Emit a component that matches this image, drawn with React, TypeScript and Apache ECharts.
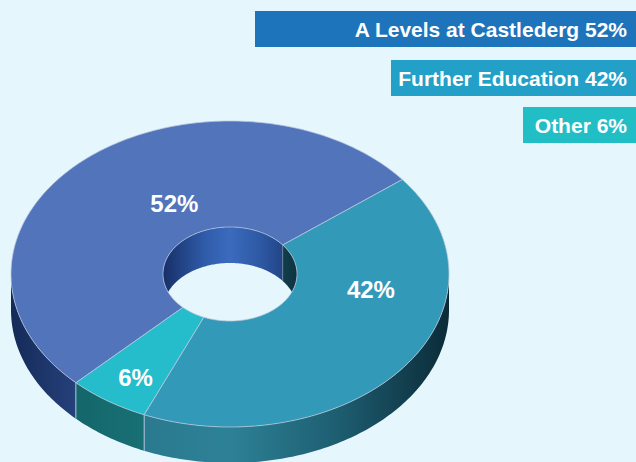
import React, { useEffect, useRef } from 'react';
import * as echarts from 'echarts';

// ---- data ----
const categories = ['A Levels at Castlederg', 'Further Education', 'Other'];
const values = [52, 42, 6];

// ---- styles ----
const topColors = ['#5274bb', '#3399b8', '#25bccb'];
const legendColors = ['#1e74ba', '#23a0c8', '#22bec6'];
const sideStops = [
  [
    { offset: 0, color: '#142a58' },
    { offset: 0.15, color: '#26417b' },
    { offset: 0.5, color: '#35599a' },
    { offset: 1, color: '#1a3060' },
  ],
  [
    { offset: 0, color: '#1e6b80' },
    { offset: 0.3, color: '#2a7a8f' },
    { offset: 0.5, color: '#2d8196' },
    { offset: 0.75, color: '#1d5d70' },
    { offset: 1, color: '#0b2b38' },
  ],
  [
    { offset: 0, color: '#0f5a5e' },
    { offset: 0.2, color: '#156a6e' },
    { offset: 0.4, color: '#1b7579' },
    { offset: 1, color: '#1b7579' },
  ],
];
const innerStops = [
  [
    { offset: 0, color: '#172f66' },
    { offset: 0.3, color: '#2f5aa8' },
    { offset: 0.5, color: '#3b6bbe' },
    { offset: 0.75, color: '#2c56a0' },
    { offset: 1, color: '#1b3874' },
  ],
  [
    { offset: 0, color: '#1a5466' },
    { offset: 0.8, color: '#164756' },
    { offset: 1, color: '#0d3340' },
  ],
  [
    { offset: 0, color: '#18777b' },
    { offset: 1, color: '#18777b' },
  ],
];
const SEAM = 'rgba(185,200,222,0.75)';
const BG = '#e6f6fd';
const FONT = '"Liberation Sans", Arial, Helvetica, sans-serif';

// ---- layout ----
const CX = 230;
const CY = 274;
const RX = 219;
const RY = 153;
const IRX = 67;
const IRY = 47;
const DEPTH = 36;
const START = 134.7;
const LABEL_R = 0.65;
const LABEL_NUDGE = [
  [39, 4],
  [28, -45],
  [-15, 21],
];
const LEGEND_TOPS = [11, 60, 107];
const LEGEND_WIDTHS = [381, 245, 113];
const LEGEND_H = 36;
const LEGEND_TEXT_RIGHT = 627;

const rad = (d: number) => (d * Math.PI) / 180;

function arcPts(a: number, b: number, rx: number, ry: number, dy = 0) {
  const n = Math.max(2, Math.ceil(Math.abs(b - a)) + 1);
  const pts: number[][] = [];
  for (let i = 0; i < n; i++) {
    const t = rad(a + ((b - a) * i) / (n - 1));
    pts.push([CX + rx * Math.cos(t), CY + ry * Math.sin(t) + dy]);
  }
  return pts;
}

function innerLowerPts(a: number, b: number) {
  const n = Math.max(2, Math.ceil(Math.abs(b - a)) + 1);
  const pts: number[][] = [];
  for (let i = 0; i < n; i++) {
    const t = rad(a + ((b - a) * i) / (n - 1));
    const s = Math.sin(t);
    const y = Math.min(CY + IRY * s + DEPTH, CY - IRY * s);
    pts.push([CX + IRX * Math.cos(t), y]);
  }
  return pts;
}

function grad(stops: any[], x0: number, x1: number) {
  return new echarts.graphic.LinearGradient(x0, 0, x1, 0, stops, true);
}

export default function App() {
  const ref = useRef<HTMLDivElement>(null);

  useEffect(() => {
    if (!ref.current) return;
    const chart = echarts.init(ref.current, undefined, { renderer: 'svg' });
    const total = values.reduce((s, v) => s + v, 0);

    const renderItem = (params: any) => {
      const i = params.dataIndex;
      const before = values.slice(0, i).reduce((s, v) => s + v, 0);
      const a = START + (before / total) * 360;
      const b = a + (values[i] / total) * 360;
      const children: any[] = [];

      // outer front side wall
      for (let k = -1; k <= 2; k++) {
        const lo = Math.max(a, 360 * k);
        const hi = Math.min(b, 360 * k + 180);
        if (lo < hi) {
          const top = arcPts(lo, hi, RX, RY);
          const bot = arcPts(lo, hi, RX, RY, DEPTH).reverse();
          children.push({
            type: 'polygon',
            shape: { points: top.concat(bot) },
            style: { fill: grad(sideStops[i], CX - RX, CX + RX) },
          });
        }
      }
      // seams on side wall at slice start
      const sa = ((a % 360) + 360) % 360;
      if (sa > 0 && sa < 180) {
        const p = [CX + RX * Math.cos(rad(sa)), CY + RY * Math.sin(rad(sa))];
        children.push({
          type: 'line',
          shape: { x1: p[0], y1: p[1], x2: p[0], y2: p[1] + DEPTH },
          style: { stroke: SEAM, lineWidth: 1 },
        });
      }
      const sb = ((b % 360) + 360) % 360;
      if (sb > 0 && sb < 180) {
        const p = [CX + RX * Math.cos(rad(sb)), CY + RY * Math.sin(rad(sb))];
        children.push({
          type: 'line',
          shape: { x1: p[0], y1: p[1], x2: p[0], y2: p[1] + DEPTH },
          style: { stroke: SEAM, lineWidth: 1 },
        });
      }

      // inner back wall of the hole
      for (let k = -1; k <= 2; k++) {
        const lo = Math.max(a, 360 * k + 180);
        const hi = Math.min(b, 360 * k + 360);
        if (lo < hi) {
          const top = arcPts(lo, hi, IRX, IRY);
          const bot = innerLowerPts(lo, hi).reverse();
          children.push({
            type: 'polygon',
            shape: { points: top.concat(bot) },
            style: { fill: grad(innerStops[i], CX - IRX, CX + IRX) },
          });
        }
      }
      for (const ang of [sa, sb]) {
        if (ang > 180 && ang < 360) {
          const x = CX + IRX * Math.cos(rad(ang));
          const s = Math.sin(rad(ang));
          const y1 = CY + IRY * s;
          const y2 = Math.min(CY + IRY * s + DEPTH, CY - IRY * s);
          children.push({
            type: 'line',
            shape: { x1: x, y1, x2: x, y2 },
            style: { stroke: 'rgba(120,140,170,0.6)', lineWidth: 1 },
          });
        }
      }

      // top face
      const outer = arcPts(a, b, RX, RY);
      const inner = arcPts(a, b, IRX, IRY).reverse();
      children.push({
        type: 'polygon',
        shape: { points: outer.concat(inner) },
        style: { fill: topColors[i], stroke: SEAM, lineWidth: 1, lineJoin: 'round' },
      });

      // label
      const mid = rad((a + b) / 2);
      const lx = CX + RX * LABEL_R * Math.cos(mid) + LABEL_NUDGE[i][0];
      const ly = CY + RY * LABEL_R * Math.sin(mid) + LABEL_NUDGE[i][1];
      children.push({
        type: 'text',
        x: lx,
        y: ly,
        style: {
          text: values[i] + '%',
          fill: '#ffffff',
          font: 'bold 24px ' + FONT,
          align: 'center',
          verticalAlign: 'middle',
          textAlign: 'center',
          textVerticalAlign: 'middle',
        },
      });

      return { type: 'group', children };
    };

    const graphics: any[] = [];
    categories.forEach((c, i) => {
      graphics.push({
        type: 'rect',
        shape: {
          x: 636 - LEGEND_WIDTHS[i],
          y: LEGEND_TOPS[i],
          width: LEGEND_WIDTHS[i],
          height: LEGEND_H,
        },
        style: { fill: legendColors[i] },
        silent: true,
      });
      graphics.push({
        type: 'text',
        x: LEGEND_TEXT_RIGHT,
        y: LEGEND_TOPS[i] + LEGEND_H / 2,
        style: {
          text: `${c} ${values[i]}%`,
          fill: '#ffffff',
          font: 'bold 21px ' + FONT,
          align: 'right',
          verticalAlign: 'middle',
          textAlign: 'right',
          textVerticalAlign: 'middle',
        },
        silent: true,
      });
    });

    chart.setOption({
      animation: false,
      backgroundColor: BG,
      graphic: graphics,
      series: [
        {
          type: 'custom',
          coordinateSystem: 'none',
          silent: true,
          renderItem,
          data: values.map((v, i) => ({ name: categories[i], value: v })),
        },
      ],
    });

    return () => chart.dispose();
  }, []);

  return (
    <div
      ref={ref}
      style={{ position: 'fixed', left: 0, top: 0, width: 636, height: 462, background: BG }}
    />
  );
}
